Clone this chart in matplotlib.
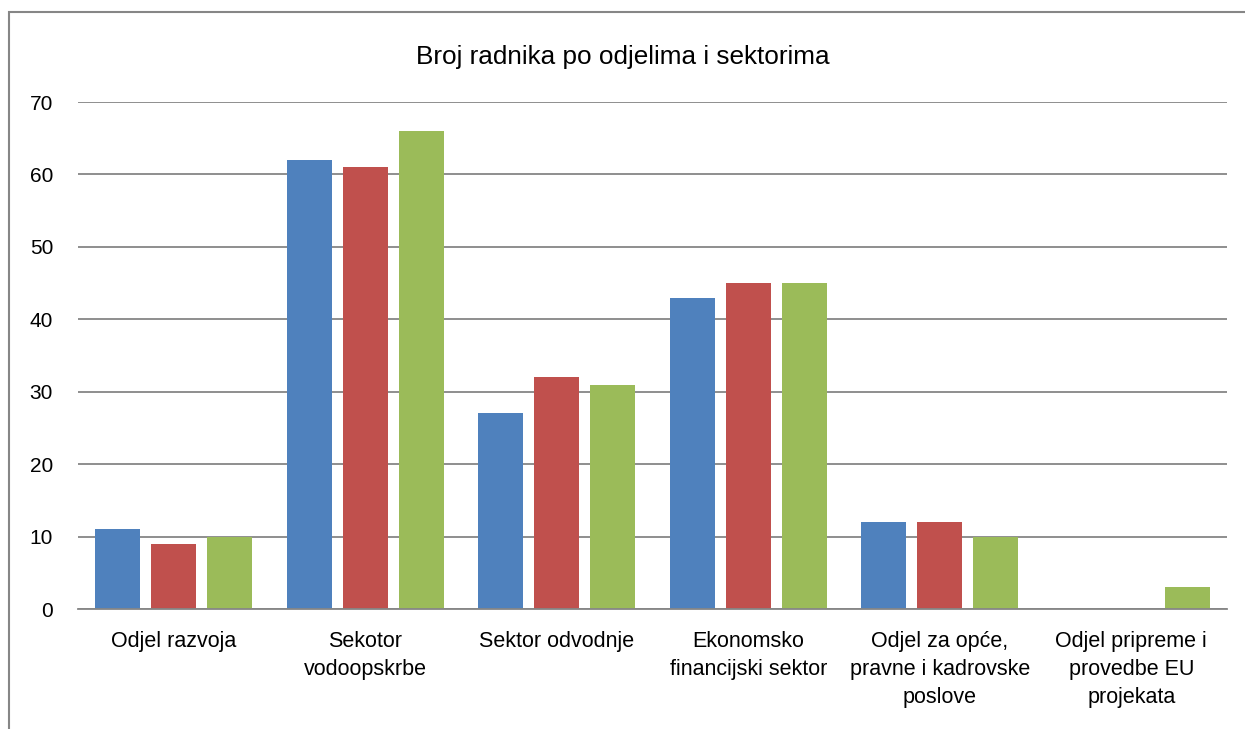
import numpy as np
import matplotlib
matplotlib.use('Agg')
import matplotlib.pyplot as plt
from matplotlib.patches import Rectangle

# podaci
categories = ['Odjel razvoja', 'Sekotor\nvodoopskrbe', 'Sektor odvodnje',
              'Ekonomsko\nfinancijski sektor', 'Odjel za opće,\npravne i kadrovske\nposlove',
              'Odjel pripreme i\nprovedbe EU\nprojekata']
series_1 = [11, 62, 27, 43, 12, 0]
series_2 = [9, 61, 32, 45, 12, 0]
series_3 = [10, 66, 31, 45, 10, 3]
colors = ['#4F81BD', '#C0504D', '#9BBB59']
yticks = [0, 10, 20, 30, 40, 50, 60, 70]

plt.rcParams['font.family'] = ['Liberation Sans', 'DejaVu Sans']

fig = plt.figure(figsize=(12.45, 7.29), dpi=100)
ax = fig.add_axes([0.0627, 0.1646, 0.9228, 0.6954])

x = np.arange(len(categories))
width = 0.235
step = 0.293
for i, vals in enumerate([series_1, series_2, series_3]):
    ax.bar(x + (i - 1) * step, vals, width, color=colors[i], zorder=3)

ax.set_xlim(-0.5, len(categories) - 0.5)
ax.set_ylim(0, 70)
ax.set_yticks(yticks)
ax.set_xticks(x)
ax.set_xticklabels(categories, fontsize=15.5, linespacing=1.42)
ax.tick_params(axis='y', length=0, pad=18, labelsize=15)
ax.tick_params(axis='x', length=0, pad=16)
ax.yaxis.grid(True, color='#868686', linewidth=1.3, zorder=0)
for s in ['top', 'right', 'left']:
    ax.spines[s].set_visible(False)
ax.spines['bottom'].set_color('#868686')
ax.spines['bottom'].set_linewidth(1.3)
ax.spines['bottom'].set_zorder(4)

fig.text(0.5, 0.922, 'Broj radnika po odjelima i sektorima', ha='center', va='center',
         fontsize=18.8)

# okvir grafikona
fig.patches.append(Rectangle((9 / 1245, -0.1), 1.2, 1.1 - 12 / 729, transform=fig.transFigure,
                             fill=False, edgecolor='#868686', linewidth=1.5))

fig.savefig('out.png', dpi=100)
